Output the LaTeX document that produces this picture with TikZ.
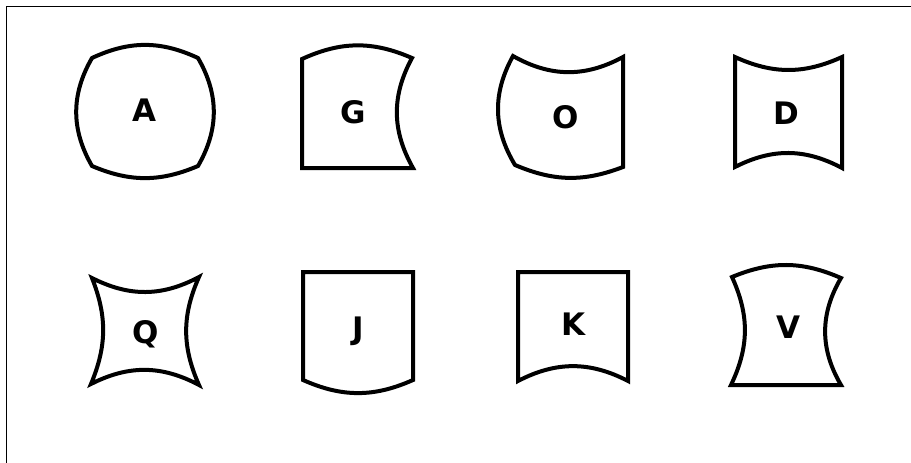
\documentclass[tikz,border=0pt]{standalone}
\usepackage{fontspec}
\setmainfont{DejaVu Sans}
\usepackage{tikz}
\tikzset{
  tile/.style={draw,line width=4pt},
  letter/.style={font=\bfseries\fontsize{31}{31}\selectfont,
    text height=22.6pt,text depth=0pt,inner sep=0pt},
  rim/.style={draw,line width=1.5pt}
}
\begin{document}
\begin{tikzpicture}[x=1pt,y=-1pt]
  \useasboundingbox (0,0) rectangle (911,463);
  % Frame (top and left edge only)
  \draw[rim] (911,6.5) -- (6.5,6.5) -- (6.5,463);
  % Top row
  \draw[tile] (92,58) to[bend left=25] (198,58) to[bend left=30] (198,166)
    to[bend left=23] (92,166) to[bend left=30] cycle;
  \node[letter] (labA) at (144,110) {A};
  \draw[tile] (302,59) to[bend left=24] (412,58) to[bend right=29] (413,168)
    -- (302,168) -- cycle;
  \node[letter] (labG) at (353,112.5) {G};
  \draw[tile] (513,56) to[bend right=29] (623,57) -- (623,167)
    to[bend left=22] (515,165) to[bend left=30] cycle;
  \node[letter] (labO) at (566,117.5) {O};
  \draw[tile] (735,57) to[bend right=24.5] (842,57) -- (842,168)
    to[bend right=27.5] (735,167) -- cycle;
  \node[letter] (labD) at (786.5,113) {D};
  % Bottom row
  \draw[tile] (92,278) to[bend right=27.5] (199,277) to[bend right=24] (199,385)
    to[bend right=27.5] (91,384) to[bend right=22] cycle;
  \node[letter] (labQ) at (145.5,332) {Q};
  \draw[tile] (303,272) -- (413,272) -- (413,380) to[bend left=24] (303,380) -- cycle;
  \node[letter] (labJ) at (358.5,328.5) {J};
  \draw[tile] (518,272) -- (628,272) -- (628,381) to[bend right=27.5] (518,381) -- cycle;
  \node[letter] (labK) at (573.5,324) {K};
  \draw[tile] (732,277) to[bend left=23] (841,278) to[bend right=30.5] (841,385)
    -- (731,385) to[bend right=25] cycle;
  \node[letter] (labV) at (788,327.5) {V};
\end{tikzpicture}
\end{document}
